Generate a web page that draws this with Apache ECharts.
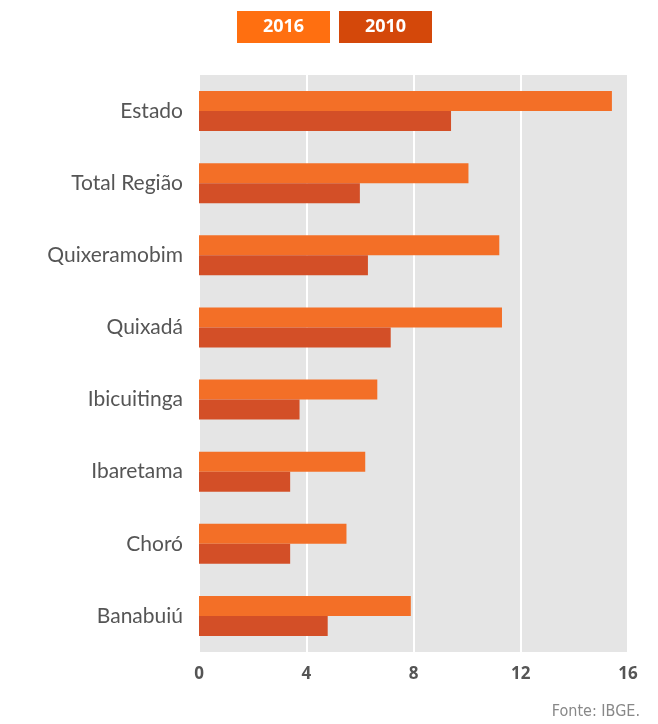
<!DOCTYPE html>
<html>
<head>
<meta charset="utf-8">
<script src="https://cdn.jsdelivr.net/npm/echarts@6/dist/echarts.min.js"></script>
<style>
html,body{margin:0;padding:0;background:#fff;}
#chart{width:658px;height:724px;}
</style>
</head>
<body>
<div id="chart"></div>
<script>
const categories = ['Estado', 'Total Região', 'Quixeramobim', 'Quixadá', 'Ibicuitinga', 'Ibaretama', 'Choró', 'Banabuiú'];
const values2016 = [15.4, 10.05, 11.2, 11.3, 6.65, 6.2, 5.5, 7.9];
const values2010 = [9.4, 6.0, 6.3, 7.15, 3.75, 3.4, 3.4, 4.8];
const xTicks = [0, 4, 8, 12, 16];
const seriesNames = ['2016', '2010'];
const legendColors = ['#FF6F10', '#D4480A'];

const legendGraphics = [];
seriesNames.forEach(function (name, i) {
  legendGraphics.push({
    type: 'group', left: 237 + i * 102, top: 11,
    children: [
      { type: 'rect', shape: { x: 0, y: 0, width: 93, height: 32 }, style: { fill: legendColors[i] } },
      { type: 'text', x: 46.5, y: 16, style: { text: name, fill: '#fff', fontSize: 18, fontWeight: 'bold', fontFamily: 'Open Sans', align: 'center', verticalAlign: 'middle' } }
    ]
  });
});

const chart = echarts.init(document.getElementById('chart'));
chart.setOption({
  animation: false,
  textStyle: { fontFamily: 'Lato' },
  grid: { left: 199, right: 30, top: 75, bottom: 72, show: true, backgroundColor: '#e5e5e5', borderWidth: 0 },
  xAxis: {
    type: 'value', min: xTicks[0], max: xTicks[xTicks.length - 1], interval: 4,
    axisLine: { show: false }, axisTick: { show: false },
    splitLine: { show: true, lineStyle: { color: '#ffffff', width: 2 } },
    axisLabel: { color: '#555', fontSize: 17, fontWeight: 'bold', margin: 14, fontFamily: 'Open Sans' }
  },
  yAxis: {
    type: 'category', data: categories, inverse: true,
    axisLine: { show: false }, axisTick: { show: false },
    axisLabel: { color: '#555', fontSize: 21, margin: 16 }
  },
  series: [
    { name: seriesNames[0], type: 'bar', data: values2016, barWidth: 20, barGap: '0%', itemStyle: { color: '#F36F27' } },
    { name: seriesNames[1], type: 'bar', data: values2010, barWidth: 20, barGap: '0%', itemStyle: { color: '#D34F27' } }
  ],
  graphic: legendGraphics.concat([{
    type: 'text', right: 18, bottom: 4,
    style: { text: 'Fonte: IBGE.', fill: '#888', fontSize: 16, fontFamily: 'DejaVu Sans Condensed, Liberation Sans Narrow, sans-serif' }
  }])
});
</script>
</body>
</html>
